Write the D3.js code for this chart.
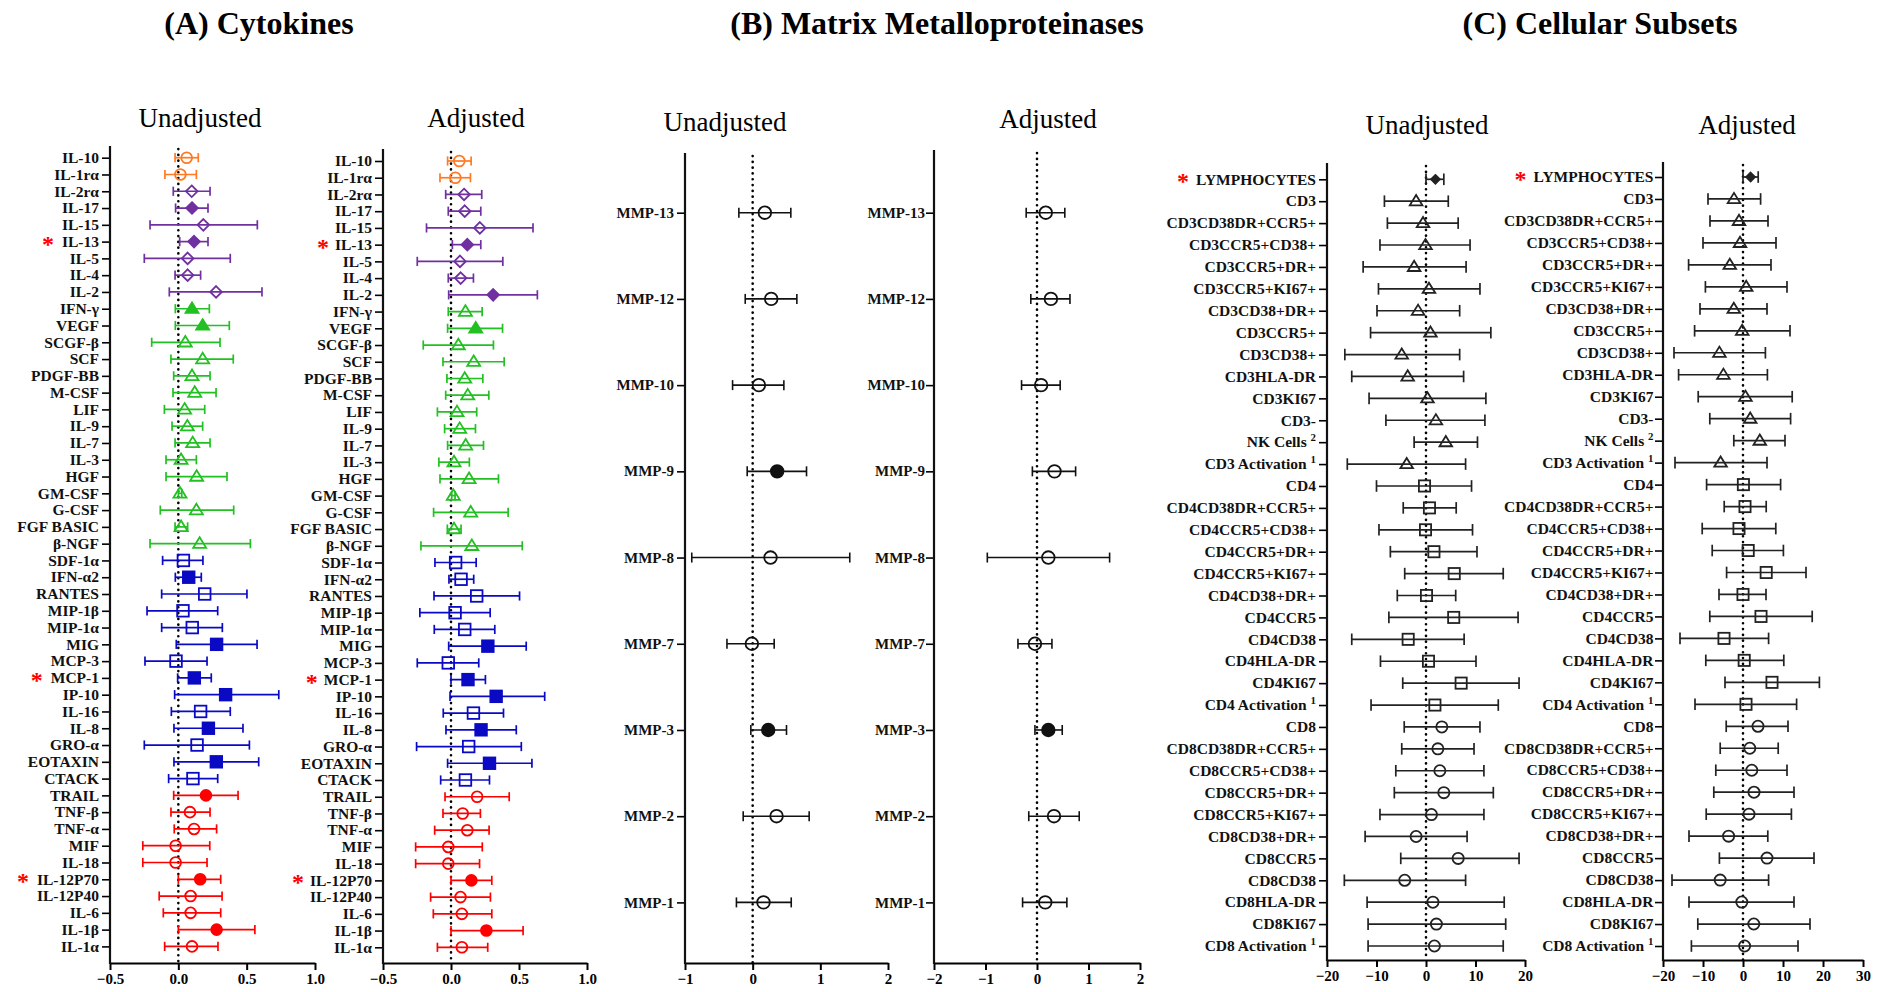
<!DOCTYPE html>
<html>
<head>
<meta charset="utf-8">
<script src="https://cdn.jsdelivr.net/npm/d3@7"></script>
<style>
  body { margin: 0; background: #fff; }
  svg text { font-family: "Liberation Serif", "Times New Roman", serif; }
</style>
</head>
<body>
<svg id="chart" width="1885" height="992"></svg>
<script>
// ---------- (A) cytokines ----------
const cytoNames = ["IL-10", "IL-1rα", "IL-2rα", "IL-17", "IL-15", "IL-13", "IL-5", "IL-4", "IL-2",
  "IFN-γ", "VEGF", "SCGF-β", "SCF", "PDGF-BB", "M-CSF", "LIF", "IL-9", "IL-7", "IL-3", "HGF",
  "GM-CSF", "G-CSF", "FGF BASIC", "β-NGF", "SDF-1α", "IFN-α2", "RANTES", "MIP-1β", "MIP-1α",
  "MIG", "MCP-3", "MCP-1", "IP-10", "IL-16", "IL-8", "GRO-α", "EOTAXIN", "CTACK", "TRAIL",
  "TNF-β", "TNF-α", "MIF", "IL-18", "IL-12P70", "IL-12P40", "IL-6", "IL-1β", "IL-1α"];
// family: 0 IL-10 type, 1 Th cytokines, 2 growth factors, 3 chemokines, 4 inflammatory
const cytoFamily = [0, 0, 1, 1, 1, 1, 1, 1, 1, 2, 2, 2, 2, 2, 2, 2, 2, 2, 2, 2, 2, 2, 2, 2,
  3, 3, 3, 3, 3, 3, 3, 3, 3, 3, 3, 3, 3, 3, 4, 4, 4, 4, 4, 4, 4, 4, 4, 4];
const cytoStarred = ["IL-13", "MCP-1", "IL-12P70"];

const cytoUnadjEst = [0.061, 0.015, 0.098, 0.10, 0.183, 0.115, 0.068, 0.068, 0.276, 0.10, 0.178, 0.051,
  0.178, 0.10, 0.12, 0.046, 0.066, 0.105, 0.02, 0.134, 0.012, 0.132, 0.02, 0.156, 0.037, 0.076,
  0.193, 0.034, 0.102, 0.28, -0.017, 0.117, 0.346, 0.163, 0.22, 0.137, 0.278, 0.107, 0.202,
  0.085, 0.115, -0.02, -0.02, 0.16, 0.09, 0.09, 0.28, 0.10];
const cytoUnadjLo = [-0.024, -0.098, -0.037, -0.02, -0.207, 0.01, -0.249, -0.024, -0.066, -0.022, -0.022, -0.195,
  -0.054, -0.034, -0.039, -0.102, -0.046, -0.024, -0.09, -0.09, 0.0, -0.132, -0.024, -0.207, -0.115, -0.022,
  -0.122, -0.229, -0.122, -0.015, -0.244, -0.005, -0.027, -0.051, -0.032, -0.249, -0.032, -0.071, -0.034,
  -0.054, -0.03, -0.26, -0.26, 0.0, -0.14, -0.11, 0.0, -0.10];
const cytoUnadjHi = [0.146, 0.132, 0.232, 0.217, 0.578, 0.217, 0.38, 0.163, 0.612, 0.227, 0.373, 0.305,
  0.402, 0.232, 0.276, 0.193, 0.178, 0.232, 0.132, 0.356, 0.025, 0.405, 0.068, 0.527, 0.18, 0.168,
  0.502, 0.288, 0.322, 0.576, 0.21, 0.241, 0.735, 0.38, 0.473, 0.52, 0.588, 0.288, 0.437,
  0.232, 0.28, 0.23, 0.21, 0.31, 0.32, 0.31, 0.56, 0.29];
const cytoUnadjSig = [0, 0, 0, 1, 0, 1, 0, 0, 0, 1, 1, 0, 0, 0, 0, 0, 0, 0, 0, 0, 0, 0, 0, 0,
  0, 1, 0, 0, 0, 1, 0, 1, 1, 0, 1, 0, 1, 0, 1, 0, 0, 0, 0, 1, 0, 0, 1, 0];

const cytoAdjEst = [0.061, 0.032, 0.096, 0.101, 0.212, 0.12, 0.066, 0.071, 0.31, 0.106, 0.182, 0.054,
  0.167, 0.101, 0.123, 0.044, 0.064, 0.108, 0.022, 0.133, 0.017, 0.145, 0.022, 0.153, 0.034, 0.074,
  0.189, 0.03, 0.101, 0.271, -0.02, 0.125, 0.332, 0.165, 0.221, 0.13, 0.283, 0.106, 0.192,
  0.086, 0.12, -0.02, -0.02, 0.15, 0.07, 0.08, 0.26, 0.08];
const cytoAdjLo = [-0.025, -0.081, -0.039, -0.02, -0.18, 0.01, -0.248, -0.02, -0.017, -0.02, -0.025, -0.204,
  -0.059, -0.03, -0.039, -0.10, -0.047, -0.025, -0.089, -0.081, 0.005, -0.128, -0.027, -0.221, -0.118, -0.015,
  -0.125, -0.229, -0.123, -0.017, -0.248, 0.0, -0.007, -0.057, -0.037, -0.253, -0.025, -0.076, -0.044,
  -0.059, -0.12, -0.26, -0.26, 0.0, -0.15, -0.13, 0.0, -0.10];
const cytoAdjHi = [0.148, 0.143, 0.226, 0.219, 0.603, 0.219, 0.381, 0.165, 0.635, 0.229, 0.379, 0.312,
  0.391, 0.234, 0.278, 0.189, 0.18, 0.239, 0.135, 0.349, 0.03, 0.42, 0.074, 0.524, 0.185, 0.167,
  0.504, 0.288, 0.322, 0.553, 0.204, 0.253, 0.689, 0.386, 0.48, 0.517, 0.595, 0.283, 0.428,
  0.216, 0.28, 0.23, 0.21, 0.30, 0.29, 0.30, 0.53, 0.27];
const cytoAdjSig = [0, 0, 0, 0, 0, 1, 0, 0, 1, 0, 1, 0, 0, 0, 0, 0, 0, 0, 0, 0, 0, 0, 0, 0,
  0, 0, 0, 0, 0, 1, 0, 1, 1, 0, 1, 0, 1, 0, 0, 0, 0, 0, 0, 1, 0, 0, 1, 0];
const cytoTicks = [-0.5, 0, 0.5, 1.0];

// ---------- (B) MMPs ----------
const mmpNames = ["MMP-13", "MMP-12", "MMP-10", "MMP-9", "MMP-8", "MMP-7", "MMP-3", "MMP-2", "MMP-1"];
const mmpUnadjEst = [0.18, 0.274, 0.092, 0.362, 0.264, -0.012, 0.23, 0.353, 0.16];
const mmpUnadjLo = [-0.204, -0.11, -0.297, -0.081, -0.9, -0.38, -0.027, -0.14, -0.24];
const mmpUnadjHi = [0.564, 0.653, 0.461, 0.796, 1.435, 0.318, 0.5, 0.835, 0.57];
const mmpUnadjSig = [0, 0, 0, 1, 0, 0, 1, 0, 0];
const mmpAdjEst = [0.17, 0.27, 0.08, 0.34, 0.22, -0.04, 0.22, 0.33, 0.16];
const mmpAdjLo = [-0.21, -0.12, -0.3, -0.09, -0.965, -0.37, -0.04, -0.16, -0.28];
const mmpAdjHi = [0.54, 0.64, 0.45, 0.75, 1.41, 0.29, 0.49, 0.82, 0.58];
const mmpAdjSig = [0, 0, 0, 0, 0, 0, 1, 0, 0];
const mmpUnadjTicks = [-1, 0, 1, 2];
const mmpAdjTicks = [-2, -1, 0, 1, 2];

// ---------- (C) cellular subsets ----------
const cellNames = ["LYMPHOCYTES", "CD3", "CD3CD38DR+CCR5+", "CD3CCR5+CD38+", "CD3CCR5+DR+", "CD3CCR5+KI67+",
  "CD3CD38+DR+", "CD3CCR5+", "CD3CD38+", "CD3HLA-DR", "CD3KI67", "CD3-", "NK Cells", "CD3 Activation",
  "CD4", "CD4CD38DR+CCR5+", "CD4CCR5+CD38+", "CD4CCR5+DR+", "CD4CCR5+KI67+", "CD4CD38+DR+", "CD4CCR5",
  "CD4CD38", "CD4HLA-DR", "CD4KI67", "CD4 Activation", "CD8", "CD8CD38DR+CCR5+", "CD8CCR5+CD38+",
  "CD8CCR5+DR+", "CD8CCR5+KI67+", "CD8CD38+DR+", "CD8CCR5", "CD8CD38", "CD8HLA-DR", "CD8KI67", "CD8 Activation"];
const cellNote = ["", "", "", "", "", "", "", "", "", "", "", "", "2", "1",
  "", "", "", "", "", "", "", "", "", "", "1", "", "", "", "", "", "", "", "", "", "", "1"];
// group: 0 lymphocytes, 1 CD3, 2 CD4, 3 CD8
const cellGroup = [0, 1, 1, 1, 1, 1, 1, 1, 1, 1, 1, 1, 1, 1, 2, 2, 2, 2, 2, 2, 2, 2, 2, 2, 2,
  3, 3, 3, 3, 3, 3, 3, 3, 3, 3, 3];
const cellStarred = ["LYMPHOCYTES"];

const cellUnadjEst = [1.9, -2.0, -0.6, -0.1, -2.4, 0.6, -1.6, 0.9, -4.9, -3.7, 0.3, 2.0, 4.0, -3.9,
  -0.3, 0.7, -0.1, 1.6, 5.7, 0.1, 5.6, -3.6, 0.5, 7.1, 1.8, 3.2, 2.4, 2.8, 3.6, 1.1, -2.0, 6.5,
  -4.3, 1.4, 2.1, 1.7];
const cellUnadjLo = [0.0, -8.4, -7.8, -9.3, -12.7, -9.6, -9.9, -11.2, -16.4, -15.0, -11.5, -8.1, -2.4, -15.9,
  -10.0, -4.6, -9.5, -7.2, -4.3, -5.8, -7.5, -15.0, -9.2, -4.7, -11.1, -4.4, -4.9, -6.1, -6.4, -9.3, -12.3, -5.1,
  -16.5, -11.9, -11.7, -11.7];
const cellUnadjHi = [3.6, 4.5, 6.5, 8.9, 8.1, 10.9, 6.8, 13.1, 6.8, 7.6, 12.1, 11.9, 10.4, 8.0,
  9.2, 6.1, 9.4, 10.3, 15.6, 6.0, 18.6, 7.7, 10.1, 18.8, 14.6, 10.9, 9.7, 11.7, 13.6, 11.7, 8.3, 18.8,
  8.0, 15.8, 16.1, 15.6];
const cellUnadjSig = [1, 0, 0, 0, 0, 0, 0, 0, 0, 0, 0, 0, 0, 0, 0, 0, 0, 0, 0, 0, 0, 0, 0, 0, 0,
  0, 0, 0, 0, 0, 0, 0, 0, 0, 0, 0];

const cellAdjEst = [1.9, -2.25, -1.0, -0.75, -3.3, 0.8, -2.3, -0.2, -5.9, -4.9, 0.6, 1.8, 4.2, -5.6,
  0.1, 0.5, -1.0, 1.3, 5.8, 0.0, 4.5, -4.75, 0.3, 7.25, 0.75, 3.75, 1.7, 2.2, 2.75, 1.5, -3.6, 6.0,
  -5.7, -0.3, 2.7, 0.4];
const cellAdjLo = [0.0, -8.75, -8.25, -10.0, -13.6, -9.4, -10.75, -12.1, -17.25, -16.1, -11.2, -8.3, -2.3, -17.0,
  -9.1, -4.7, -10.2, -7.7, -4.1, -6.0, -8.3, -15.75, -9.3, -4.5, -12.0, -4.2, -5.7, -6.8, -7.3, -9.2, -13.5, -5.9,
  -17.75, -13.5, -11.3, -12.9];
const cellAdjHi = [3.8, 4.4, 6.25, 8.25, 7.0, 11.0, 6.0, 11.75, 5.6, 6.1, 12.3, 11.9, 10.5, 6.0,
  9.4, 5.8, 8.2, 10.1, 15.75, 5.75, 17.3, 6.4, 10.2, 19.1, 13.4, 11.25, 8.8, 11.0, 12.75, 12.1, 6.2, 17.75,
  6.4, 12.75, 16.75, 13.75];
const cellAdjSig = cellUnadjSig;
const cellUnadjTicks = [-20, -10, 0, 10, 20];
const cellAdjTicks = [-20, -10, 0, 10, 20, 30];

// ---------- drawing ----------
const svg = d3.select("#chart");

const familyColor = ["#ff7a22", "#7030a0", "#22c022", "#0a0ac4", "#ff0000"];
const familyShape = ["circle", "diamond", "triangle", "square", "circle"];
const cellShape = ["diamond", "triangle", "square", "circle"];

function drawMarker(g, shape, cx, cy, filled, color, s) {
  let m;
  if (shape === "circle") {
    m = g.append("circle").attr("cx", cx).attr("cy", cy).attr("r", s);
  } else if (shape === "square") {
    m = g.append("rect").attr("x", cx - s).attr("y", cy - s).attr("width", 2 * s).attr("height", 2 * s);
  } else if (shape === "diamond") {
    m = g.append("path").attr("d", `M${cx},${cy - s}L${cx + s},${cy}L${cx},${cy + s}L${cx - s},${cy}Z`);
  } else {
    const h = s * 1.7;
    m = g.append("path").attr("d", `M${cx},${cy - h * 0.6}L${cx + s * 1.05},${cy + h * 0.4}L${cx - s * 1.05},${cy + h * 0.4}Z`);
  }
  m.attr("fill", filled ? color : "none").attr("stroke", color).attr("stroke-width", 1.8);
}

function drawPanel(o) {
  const x = d3.scaleLinear().domain(o.domain).range(o.xRange);
  const y = d3.scalePoint().domain(o.names).range(o.yRange);
  const g = svg.append("g");

  // zero reference
  g.append("line")
    .attr("x1", x(0)).attr("x2", x(0))
    .attr("y1", o.axisTop + 3).attr("y2", o.axisBottom)
    .attr("stroke", "#000").attr("stroke-width", 2.6)
    .attr("stroke-linecap", "round").attr("stroke-dasharray", "0.1,5.7");

  // x axis
  const xa = g.append("g")
    .attr("transform", `translate(0,${o.axisBottom})`)
    .call(d3.axisBottom(x).tickValues(o.ticks).tickFormat(o.fmt).tickSize(7).tickSizeOuter(0));
  xa.select(".domain").attr("stroke-width", 2);
  xa.selectAll(".tick line").attr("stroke-width", 2);
  xa.selectAll(".tick text").attr("font-size", 15).attr("font-weight", "bold")
    .attr("font-family", "Liberation Serif, serif").attr("fill", "#000");

  // y axis
  const ya = g.append("g")
    .attr("transform", `translate(${o.xRange[0]},0)`)
    .call(d3.axisLeft(y).tickSize(8).tickFormat(""));
  ya.select(".domain").remove();
  ya.selectAll(".tick line").attr("stroke-width", 1.6);
  g.append("line")
    .attr("x1", o.xRange[0]).attr("x2", o.xRange[0])
    .attr("y1", o.axisTop).attr("y2", o.axisBottom + 1)
    .attr("stroke", "#111").attr("stroke-width", 2.2);

  // category labels
  o.names.forEach((name, i) => {
    const lx = o.xRange[0] - o.labelGap;
    const t = g.append("text")
      .attr("x", lx)
      .attr("y", y(name) + o.labelSize * 0.34)
      .attr("text-anchor", "end")
      .attr("font-weight", "bold")
      .attr("font-size", o.labelSize)
      .attr("fill", "#111");
    const note = o.notes ? o.notes[i] : "";
    t.append("tspan").text(note ? name + " " : name);
    if (note) {
      t.append("tspan").attr("dy", -6).attr("font-size", o.labelSize * 0.7).text(note);
    }
    if (o.starred.includes(name)) {
      const w = t.node().getComputedTextLength();
      g.append("text")
        .attr("x", lx - w - o.starGap).attr("y", y(name) + 10)
        .attr("text-anchor", "middle")
        .attr("font-size", 24).attr("font-weight", "bold")
        .attr("fill", "#ff0000").text("*");
    }
  });

  // error bars and markers
  o.names.forEach((name, i) => {
    const cy = y(name);
    const c = o.color(i);
    g.append("line")
      .attr("x1", x(o.lo[i])).attr("x2", x(o.hi[i]))
      .attr("y1", cy).attr("y2", cy)
      .attr("stroke", c).attr("stroke-width", o.barWidth);
    [o.lo[i], o.hi[i]].forEach(v => {
      g.append("line")
        .attr("x1", x(v)).attr("x2", x(v))
        .attr("y1", cy - o.cap).attr("y2", cy + o.cap)
        .attr("stroke", c).attr("stroke-width", o.barWidth);
    });
    drawMarker(g, o.shape(i), x(o.est[i]), cy, o.sig[i] === 1, c, o.markerSize(i));
  });
}

function header(txt, cx, cy, size, weight) {
  svg.append("text")
    .attr("x", cx).attr("y", cy)
    .attr("text-anchor", "middle")
    .attr("font-size", size)
    .attr("font-weight", weight)
    .attr("fill", "#000")
    .text(txt);
}

header("(A) Cytokines", 259, 34, 32, "bold");
header("(B) Matrix Metalloproteinases", 937, 34, 32, "bold");
header("(C) Cellular Subsets", 1600, 34, 32, "bold");
header("Unadjusted", 200, 127, 27, "normal");
header("Adjusted", 476, 127, 27, "normal");
header("Unadjusted", 725, 131, 27, "normal");
header("Adjusted", 1048, 128, 27, "normal");
header("Unadjusted", 1427, 134, 27, "normal");
header("Adjusted", 1747, 134, 27, "normal");

const cytoFmt = d => d3.format(".1f")(d);
const cytoSize = i => ({ circle: 5.4, diamond: 5.8, triangle: 6.2, square: 5.8 })[familyShape[cytoFamily[i]]];

drawPanel({
  names: cytoNames, est: cytoUnadjEst, lo: cytoUnadjLo, hi: cytoUnadjHi, sig: cytoUnadjSig,
  domain: [-0.5, 1.0], xRange: [110, 315], yRange: [157.7, 946.4],
  axisTop: 146, axisBottom: 963, ticks: cytoTicks, fmt: cytoFmt,
  labelGap: 11, labelSize: 15.5, starred: cytoStarred, starGap: 14,
  color: i => familyColor[cytoFamily[i]], shape: i => familyShape[cytoFamily[i]],
  markerSize: cytoSize, cap: 4.6, barWidth: 1.7
});
drawPanel({
  names: cytoNames, est: cytoAdjEst, lo: cytoAdjLo, hi: cytoAdjHi, sig: cytoAdjSig,
  domain: [-0.5, 1.0], xRange: [383, 587], yRange: [161, 947.3],
  axisTop: 149, axisBottom: 963, ticks: cytoTicks, fmt: cytoFmt,
  labelGap: 11, labelSize: 15.5, starred: cytoStarred, starGap: 12,
  color: i => familyColor[cytoFamily[i]], shape: i => familyShape[cytoFamily[i]],
  markerSize: cytoSize, cap: 4.6, barWidth: 1.7
});

drawPanel({
  names: mmpNames, est: mmpUnadjEst, lo: mmpUnadjLo, hi: mmpUnadjHi, sig: mmpUnadjSig,
  domain: [-1, 2], xRange: [685, 888], yRange: [212.7, 902.4],
  axisTop: 153, axisBottom: 963, ticks: mmpUnadjTicks, fmt: d3.format("d"),
  labelGap: 11, labelSize: 15, starred: [], starGap: 0,
  color: () => "#111", shape: () => "circle",
  markerSize: () => 6.3, cap: 5, barWidth: 1.6
});
drawPanel({
  names: mmpNames, est: mmpAdjEst, lo: mmpAdjLo, hi: mmpAdjHi, sig: mmpAdjSig,
  domain: [-2, 2], xRange: [934, 1140], yRange: [212.7, 902.4],
  axisTop: 150, axisBottom: 963, ticks: mmpAdjTicks, fmt: d3.format("d"),
  labelGap: 9, labelSize: 15, starred: [], starGap: 0,
  color: () => "#111", shape: () => "circle",
  markerSize: () => 6.3, cap: 5, barWidth: 1.6
});

const cellSize = i => ({ diamond: 4.4, triangle: 6.0, square: 5.6, circle: 5.6 })[cellShape[cellGroup[i]]];
drawPanel({
  names: cellNames, notes: cellNote, est: cellUnadjEst, lo: cellUnadjLo, hi: cellUnadjHi, sig: cellUnadjSig,
  domain: [-20, 20], xRange: [1327, 1525], yRange: [179.3, 946],
  axisTop: 163, axisBottom: 960, ticks: cellUnadjTicks, fmt: d3.format("d"),
  labelGap: 11, labelSize: 15.5, starred: cellStarred, starGap: 13,
  color: () => "#222", shape: i => cellShape[cellGroup[i]],
  markerSize: cellSize, cap: 5.8, barWidth: 1.7
});
drawPanel({
  names: cellNames, notes: cellNote, est: cellAdjEst, lo: cellAdjLo, hi: cellAdjHi, sig: cellAdjSig,
  domain: [-20, 30], xRange: [1663, 1863], yRange: [177, 946],
  axisTop: 162, axisBottom: 960, ticks: cellAdjTicks, fmt: d3.format("d"),
  labelGap: 9.5, labelSize: 15.5, starred: cellStarred, starGap: 13,
  color: () => "#222", shape: i => cellShape[cellGroup[i]],
  markerSize: cellSize, cap: 5.8, barWidth: 1.7
});
</script>
</body>
</html>
